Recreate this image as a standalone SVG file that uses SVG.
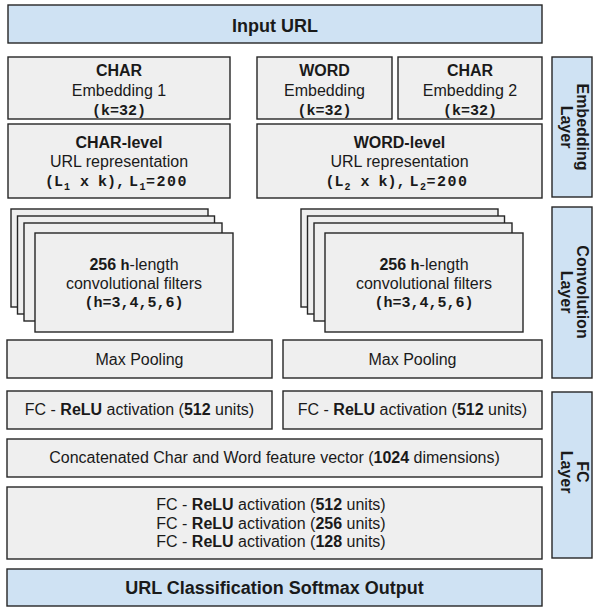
<svg xmlns="http://www.w3.org/2000/svg" width="593" height="607" viewBox="0 0 593 607">
<style>
.g{fill:#efefef;stroke:#262626;stroke-width:1.4}
.b{fill:#cfe2f3;stroke:#262626;stroke-width:1.4}
text{font-family:"Liberation Sans",Arial,sans-serif;font-size:16px;fill:#1a1a1a}
.c{text-anchor:middle}
.bd{font-weight:bold}
.big{font-weight:bold;font-size:18px}
.m{font-family:"Liberation Mono","Courier New",monospace;font-weight:bold;font-size:15px}
.sub{font-family:"Liberation Mono","Courier New",monospace;font-weight:bold;font-size:10px}
.side{font-weight:bold;font-size:16px;text-anchor:middle}
</style>
<rect width="593" height="607" fill="#ffffff"/>
<g id="input-url">
<rect class="b" x="8" y="5" width="534" height="38"/>
<text class="c big" x="275" y="32">Input URL</text>
</g>
<g id="char-embedding-1">
<rect class="g" x="8" y="57" width="222" height="62"/>
<text class="c bd" x="119" y="76">CHAR</text>
<text class="c" x="119" y="96">Embedding 1</text>
<text class="c m" x="119" y="115">(k=32)</text>
</g>
<g id="word-embedding">
<rect class="g" x="257" y="57" width="135" height="62"/>
<text class="c bd" x="324.5" y="76">WORD</text>
<text class="c" x="324.5" y="96">Embedding</text>
<text class="c m" x="324.5" y="115">(k=32)</text>
</g>
<g id="char-embedding-2">
<rect class="g" x="398" y="57" width="144" height="62"/>
<text class="c bd" x="470" y="76">CHAR</text>
<text class="c" x="470" y="96">Embedding 2</text>
<text class="c m" x="470" y="115">(k=32)</text>
</g>
<g id="char-level">
<rect class="g" x="8" y="124" width="222" height="74"/>
<text class="c bd" x="119" y="148">CHAR-level</text>
<text class="c" x="119" y="167">URL representation</text>
<text class="m" x="45" y="186">(L</text>
<text class="sub" x="64" y="190">1</text>
<text class="m" x="80" y="186">x k),</text>
<text class="m" x="129" y="186">L</text>
<text class="sub" x="139.5" y="190">1</text>
<text class="m" x="146 156.5 167 177.5" y="186">=200</text>
</g>
<g id="word-level">
<rect class="g" x="257" y="124" width="285" height="74"/>
<text class="c bd" x="399.5" y="148">WORD-level</text>
<text class="c" x="399.5" y="167">URL representation</text>
<text class="m" x="325.5" y="186">(L</text>
<text class="sub" x="344.5" y="190">2</text>
<text class="m" x="360.5" y="186">x k),</text>
<text class="m" x="409.5" y="186">L</text>
<text class="sub" x="420" y="190">2</text>
<text class="m" x="426.5 437 447.5 458" y="186">=200</text>
</g>
<g id="embedding-layer">
<rect class="b" x="552" y="57" width="40" height="140"/>
<g transform="translate(575,127) rotate(90)">
<text class="side" x="0" y="-2">Embedding</text>
<text class="side" x="0" y="14">Layer</text>
</g>
</g>
<g id="char-conv-filters">
<rect class="g" x="11" y="209" width="197" height="98"/>
<rect class="g" x="17.5" y="216" width="197" height="98"/>
<rect class="g" x="24" y="223" width="198" height="98"/>
<rect class="g" x="35" y="233" width="198" height="99"/>
<text class="c" x="134" y="270"><tspan class="bd">256 </tspan><tspan class="m">h</tspan>-length</text>
<text class="c" x="134" y="289">convolutional filters</text>
<text class="c m" x="134" y="307">(h=3,4,5,6)</text>
</g>
<g id="word-conv-filters">
<rect class="g" x="301" y="209" width="197" height="98"/>
<rect class="g" x="307.5" y="216" width="197" height="98"/>
<rect class="g" x="314" y="223" width="198" height="98"/>
<rect class="g" x="325" y="233" width="198" height="99"/>
<text class="c" x="424" y="270"><tspan class="bd">256 </tspan><tspan class="m">h</tspan>-length</text>
<text class="c" x="424" y="289">convolutional filters</text>
<text class="c m" x="424" y="307">(h=3,4,5,6)</text>
</g>
<g id="char-max-pooling">
<rect class="g" x="7" y="340" width="265" height="38"/>
<text class="c" x="139.5" y="365">Max Pooling</text>
</g>
<g id="word-max-pooling">
<rect class="g" x="283" y="340" width="259" height="38"/>
<text class="c" x="412.5" y="365">Max Pooling</text>
</g>
<g id="convolution-layer">
<rect class="b" x="552" y="207" width="40" height="171"/>
<g transform="translate(575,292) rotate(90)">
<text class="side" x="0" y="-2">Convolution</text>
<text class="side" x="0" y="14">Layer</text>
</g>
</g>
<g id="char-fc">
<rect class="g" x="7" y="391" width="265" height="38"/>
<text class="c" x="139.5" y="415">FC - <tspan class="bd">ReLU</tspan> activation (<tspan class="bd">512</tspan> units)</text>
</g>
<g id="word-fc">
<rect class="g" x="283" y="391" width="259" height="38"/>
<text class="c" x="412.5" y="415">FC - <tspan class="bd">ReLU</tspan> activation (<tspan class="bd">512</tspan> units)</text>
</g>
<g id="concatenated">
<rect class="g" x="7" y="439" width="535" height="38"/>
<text class="c" x="274.5" y="463">Concatenated Char and Word feature vector (<tspan class="bd">1024</tspan> dimensions)</text>
</g>
<g id="fc-stack">
<rect class="g" x="7" y="487" width="535" height="72"/>
<text class="c" x="271" y="510">FC - <tspan class="bd">ReLU</tspan> activation (<tspan class="bd">512</tspan> units)</text>
<text class="c" x="271" y="528.5">FC - <tspan class="bd">ReLU</tspan> activation (<tspan class="bd">256</tspan> units)</text>
<text class="c" x="271" y="547">FC - <tspan class="bd">ReLU</tspan> activation (<tspan class="bd">128</tspan> units)</text>
</g>
<g id="fc-layer">
<rect class="b" x="552" y="392" width="40" height="166"/>
<g transform="translate(575,472) rotate(90)">
<text class="side" x="0" y="-2">FC</text>
<text class="side" x="0" y="14">Layer</text>
</g>
</g>
<g id="output">
<rect class="b" x="7" y="569" width="535" height="37"/>
<text class="c big" x="274.5" y="594">URL Classification Softmax Output</text>
</g>
<g id="connectors"></g>
</svg>
